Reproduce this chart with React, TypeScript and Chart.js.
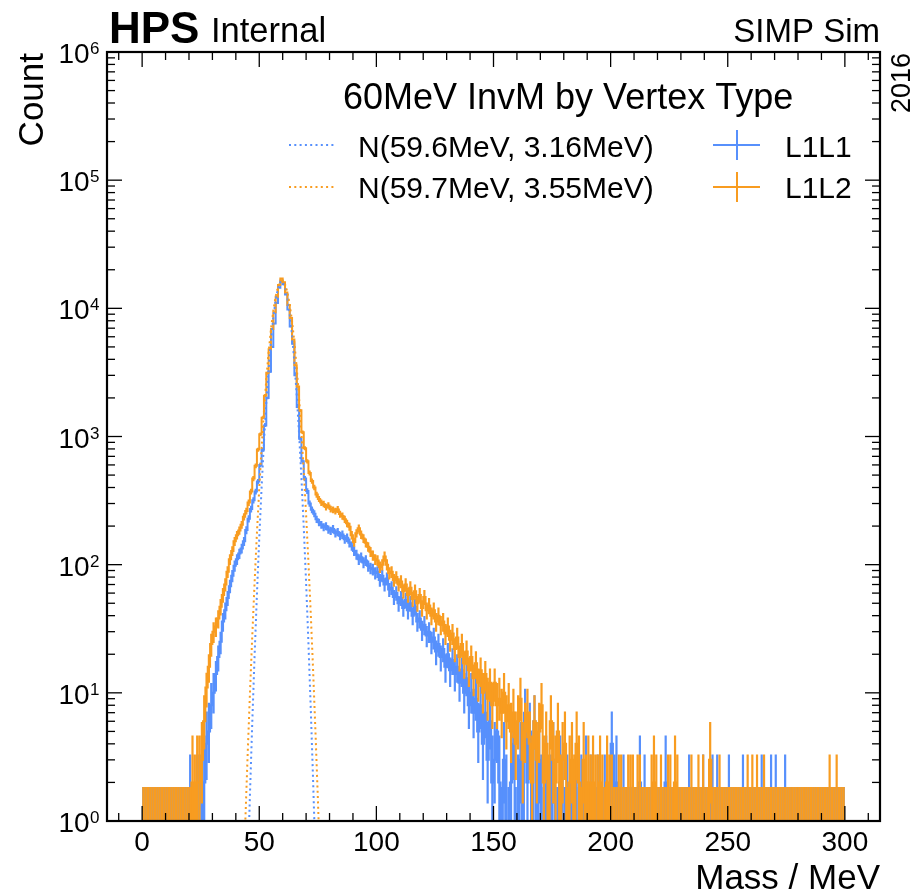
import React, { useEffect, useRef } from "react";
import { Chart, registerables } from "chart.js";

Chart.register(...registerables);

// ---------------- data ----------------
const BIN_LOW = 0; // MeV, first bin edge
const BIN_WIDTH = 1; // MeV

// L1L1 counts per 1 MeV bin, 0..300 MeV
const L1L1_COUNTS = [
  0, 0, 0, 0, 0, 0, 0, 0, 0, 0,
  0, 0, 0, 0, 0, 0, 0, 0, 0, 0,
  1, 0, 0, 1, 1, 1, 2, 4, 5, 8,
  10, 14, 19, 25, 36, 44, 55, 68, 82, 98,
  110, 122, 134, 152, 186, 228, 272, 318, 372, 445,
  600, 790, 1220, 2000, 3200, 5000, 7600, 11000, 14500, 16500,
  15400, 12800, 9800, 7200, 5300, 3000, 1700, 960, 640, 470,
  375, 300, 268, 250, 226, 214, 205, 196, 200, 188,
  184, 190, 176, 180, 168, 172, 158, 162, 148, 140,
  128, 120, 110, 114, 104, 108, 98, 94, 92, 86,
  88, 76, 82, 70, 78, 64, 66, 56, 60, 50,
  55, 46, 53, 44, 50, 40, 47, 36, 38, 31,
  34, 28, 30, 25, 27, 21, 24, 19, 22, 16,
  20, 15, 18, 14, 16, 12, 15, 10, 13, 8,
  10, 7, 9, 5, 8, 4, 7, 3, 6, 2,
  3, 5, 2, 0, 3, 1, 0, 2, 4, 0,
  1, 3, 0, 7, 2, 5, 1, 6, 0, 3,
  1, 0, 2, 0, 1, 3, 0, 0, 2, 1,
  0, 1, 0, 2, 0, 1, 0, 1, 0, 2,
  0, 1, 0, 0, 1, 0, 0, 1, 0, 0,
  4, 1, 2, 0, 0, 1, 0, 0, 0, 0,
  0, 0, 2, 0, 1, 0, 0, 0, 0, 0,
  0, 0, 0, 2, 0, 0, 0, 0, 0, 0,
  0, 0, 0, 1, 0, 0, 0, 0, 0, 1,
  0, 0, 0, 1, 0, 1, 0, 0, 0, 0,
  1, 0, 0, 0, 0, 0, 1, 0, 0, 0,
  0, 0, 0, 0, 1, 0, 0, 0, 1, 0,
  1, 0, 0, 0, 1, 0, 0, 0, 0, 0,
  0, 0, 0, 0, 0, 0, 0, 0, 0, 0,
  0, 0, 0, 0, 0, 0, 0, 0, 0, 0,
];

// L1L2 counts per 1 MeV bin, 0..300 MeV
const L1L2_COUNTS = [
  0, 0, 0, 0, 0, 0, 0, 0, 0, 0,
  0, 0, 0, 0, 0, 0, 0, 0, 0, 0,
  0, 2, 1, 2, 2, 3, 6, 11, 16, 24,
  30, 33, 38, 47, 58, 70, 88, 110, 128, 152,
  170, 185, 205, 236, 262, 305, 372, 470, 590, 790,
  1040, 1400, 2080, 3150, 4800, 6900, 9300, 12300, 15200, 17100,
  16000, 13300, 10600, 8400, 5700, 3600, 2450, 1600, 1080, 810,
  640, 520, 450, 400, 352, 326, 305, 298, 282, 290,
  272, 268, 262, 270, 248, 240, 226, 210, 198, 170,
  150, 176, 192, 172, 160, 148, 138, 126, 118, 110,
  108, 96, 100, 116, 100, 86, 88, 76, 80, 70,
  74, 62, 70, 58, 66, 54, 62, 50, 58, 46,
  56, 44, 48, 40, 44, 36, 40, 34, 36, 29,
  33, 26, 29, 22, 27, 19, 24, 17, 21, 15,
  19, 13, 17, 12, 15, 10, 14, 9, 12, 8,
  12, 8, 9, 7, 10, 6, 8, 5, 7, 4,
  6, 9, 3, 5, 7, 4, 2, 6, 3, 5,
  8, 2, 4, 1, 6, 3, 2, 5, 1, 3,
  4, 0, 2, 3, 1, 4, 2, 0, 3, 1,
  2, 1, 2, 1, 1, 2, 1, 0, 2, 1,
  1, 0, 0, 1, 1, 0, 0, 1, 1, 1,
  0, 1, 1, 0, 0, 0, 0, 1, 2, 1,
  0, 1, 0, 0, 1, 1, 0, 2, 1, 0,
  0, 0, 0, 0, 1, 0, 0, 1, 0, 1,
  0, 0, 3, 0, 0, 0, 1, 0, 0, 0,
  0, 0, 0, 0, 0, 0, 0, 0, 1, 0,
  1, 0, 1, 0, 0, 1, 0, 0, 0, 0,
  0, 0, 0, 0, 0, 0, 0, 0, 0, 0,
  0, 0, 0, 0, 0, 0, 0, 0, 0, 0,
  0, 0, 0, 1, 0, 0, 1, 0, 0, 0,
];

// Gaussian fit curves, sampled values (MeV, counts)
const FIT_L1L1_X = [45, 46, 47, 48, 49, 50, 51, 52, 53, 54, 55, 56, 57, 58, 59, 60, 61, 62, 63, 64, 65, 66, 67, 68, 69, 70, 71, 72, 73, 74];
const FIT_L1L1_Y = [0.377, 1.55, 5.74, 19.3, 58.6, 161, 401, 903, 1840, 3390, 5650, 8510, 11600, 14300, 16000, 16170, 14800, 12200, 9130, 6180, 3780, 2090, 1050, 475, 195, 72.4, 24.3, 7.38, 2.03, 0.504];
const FIT_L1L2_X = [44, 45, 46, 47, 48, 49, 50, 51, 52, 53, 54, 55, 56, 57, 58, 59, 60, 61, 62, 63, 64, 65, 66, 67, 68, 69, 70, 71, 72, 73, 74, 75, 76];
const FIT_L1L2_Y = [0.933, 3.12, 9.62, 27.4, 72.2, 176, 395, 819, 1570, 2780, 4550, 6870, 9590, 12360, 14720, 16180, 16440, 15430, 13380, 10710, 7920, 5410, 3420, 1990, 1070, 534, 245, 104, 40.8, 14.8, 4.94, 1.53, 0.436];

// Poisson (Garwood 68%) interval bounds for small counts 0..10
const POISSON_LO = [0, 0.173, 0.708, 1.367, 2.086, 2.84, 3.62, 4.419, 5.232, 6.057, 6.891];
const POISSON_HI = [1.841, 3.3, 4.638, 5.918, 7.163, 8.382, 9.584, 10.77, 11.95, 13.11, 14.27];

const X_TICKS = [0, 50, 100, 150, 200, 250, 300];
const Y_TICK_EXPONENTS = [0, 1, 2, 3, 4, 5, 6];

const SERIES_LABELS = ["L1L1", "L1L2"];
const FIT_LABELS = ["N(59.6MeV, 3.16MeV)", "N(59.7MeV, 3.55MeV)"];
const LEGEND_TITLE = "60MeV InvM by Vertex Type";

// ---------------- style ----------------
const W = 914;
const H = 893;
const FONT = '"Liberation Sans", Arial, Helvetica, sans-serif';
const BLUE = "#5790fc";
const ORANGE = "#f89c20";
// log axis cannot show 0: zero is drawn at a tiny value far below the axis (clipped)
const LOG_FLOOR = 1e-3;

const floor0 = (v: number) => (v <= 0 ? LOG_FLOOR : v);

function stepPoints(counts: number[]) {
  const pts = counts.map((v, i) => ({ x: BIN_LOW + i * BIN_WIDTH, y: floor0(v) }));
  pts.push({ x: BIN_LOW + counts.length * BIN_WIDTH, y: floor0(counts[counts.length - 1]) });
  return pts;
}

function errPoints(counts: number[]) {
  const pts: { x: number; y: number | null }[] = [];
  counts.forEach((n, i) => {
    const c = BIN_LOW + (i + 0.5) * BIN_WIDTH;
    let lo: number, hi: number;
    if (n < POISSON_LO.length) {
      lo = POISSON_LO[n];
      hi = POISSON_HI[n];
    } else {
      const s = Math.sqrt(n);
      lo = n - s;
      hi = n + s;
    }
    pts.push({ x: c, y: floor0(lo) }, { x: c, y: hi }, { x: c, y: null });
  });
  return pts;
}

function fitPoints(xs: number[], ys: number[]) {
  return xs.map((x, i) => ({ x, y: ys[i] }));
}

const decorPlugin = {
  id: "decor",
  afterDatasetsDraw(chart: any) {
    const { ctx, chartArea: a, scales } = chart;
    const xs = scales.x;
    const ys = scales.y;
    ctx.save();
    ctx.strokeStyle = "#000";
    ctx.lineCap = "butt";
    ctx.lineWidth = 1.3;
    const seg = (x1: number, y1: number, x2: number, y2: number) => {
      ctx.beginPath();
      ctx.moveTo(x1, y1);
      ctx.lineTo(x2, y2);
      ctx.stroke();
    };
    // x ticks
    for (let v = -10; v <= 310; v += 10) {
      const px = xs.getPixelForValue(v);
      const major = X_TICKS.includes(v);
      const len = major ? 15 : 8;
      seg(px, a.bottom, px, a.bottom - len);
      seg(px, a.top, px, a.top + len);
    }
    // y ticks
    for (let e = 0; e < 6; e++) {
      for (let k = 1; k <= 9; k++) {
        const val = k * Math.pow(10, e);
        const py = ys.getPixelForValue(val);
        const len = k === 1 ? 15 : 8;
        seg(a.left, py, a.left + len, py);
        seg(a.right, py, a.right - len, py);
      }
    }
    // frame
    ctx.lineWidth = 2.2;
    ctx.strokeRect(a.left, a.top, a.right - a.left, a.bottom - a.top);

    ctx.fillStyle = "#000";
    // y tick labels
    Y_TICK_EXPONENTS.forEach((e) => {
      const py = ys.getPixelForValue(Math.pow(10, e));
      ctx.font = `17px ${FONT}`;
      ctx.textAlign = "right";
      ctx.textBaseline = "alphabetic";
      const ew = ctx.measureText(String(e)).width;
      ctx.fillText(String(e), 99.5, py + 2);
      ctx.font = `28px ${FONT}`;
      ctx.fillText("10", 99.5 - ew - 0.5, py + 11);
    });
    // x tick labels
    ctx.font = `28px ${FONT}`;
    ctx.textAlign = "center";
    X_TICKS.forEach((v) => {
      ctx.fillText(String(v), xs.getPixelForValue(v), 851);
    });
    // axis titles
    ctx.font = `35px ${FONT}`;
    ctx.textAlign = "right";
    ctx.fillText("Mass / MeV", a.right, 889);
    ctx.save();
    ctx.translate(43, a.top + 1);
    ctx.rotate(-Math.PI / 2);
    ctx.textAlign = "right";
    ctx.fillText("Count", 0, 0);
    ctx.restore();

    // experiment labels
    ctx.textAlign = "left";
    ctx.font = `bold 44px ${FONT}`;
    ctx.fillText("HPS", 109, 43);
    ctx.font = `34.5px ${FONT}`;
    ctx.fillText("Internal", 211, 42);
    ctx.textAlign = "right";
    ctx.font = `33px ${FONT}`;
    ctx.fillText("SIMP Sim", a.right, 42);
    ctx.save();
    ctx.translate(910, a.top + 1);
    ctx.rotate(-Math.PI / 2);
    ctx.font = `27px ${FONT}`;
    ctx.textAlign = "right";
    ctx.fillText("2016", 0, 0);
    ctx.restore();

    // legend
    ctx.textAlign = "left";
    ctx.font = `36px ${FONT}`;
    ctx.fillText(LEGEND_TITLE, 343, 109);
    const rows = [
      { y: 145, base: 157, color: BLUE },
      { y: 187, base: 198, color: ORANGE },
    ];
    rows.forEach((r, i) => {
      ctx.strokeStyle = r.color;
      ctx.lineWidth = 2;
      ctx.setLineDash([2, 3.3]);
      seg(289, r.y, 335, r.y);
      ctx.setLineDash([]);
      ctx.font = `30px ${FONT}`;
      ctx.fillStyle = "#000";
      ctx.fillText(FIT_LABELS[i], 358, r.base);
      ctx.strokeStyle = r.color;
      ctx.lineWidth = 2;
      seg(713, r.y, 760, r.y);
      seg(737, r.y - 15, 737, r.y + 15);
      ctx.fillText(SERIES_LABELS[i], 785, r.base);
    });
    ctx.restore();
  },
};

export default function App() {
  const ref = useRef<HTMLCanvasElement>(null);
  useEffect(() => {
    const canvas = ref.current!;
    const histStyle = (color: string, order: number) => ({
      borderColor: color,
      backgroundColor: color,
      borderWidth: 2,
      pointRadius: 0,
      fill: false,
      order,
      clip: 0,
    });
    const chart = new Chart(canvas, {
      type: "line",
      data: {
        datasets: [
          { label: "L1L1", data: stepPoints(L1L1_COUNTS), stepped: "before", ...histStyle(BLUE, 6) } as any,
          { label: "L1L1 err", data: errPoints(L1L1_COUNTS), spanGaps: false, ...histStyle(BLUE, 5), borderWidth: 2.2 } as any,
          { label: "L1L2", data: stepPoints(L1L2_COUNTS), stepped: "before", ...histStyle(ORANGE, 4) } as any,
          { label: "L1L2 err", data: errPoints(L1L2_COUNTS), spanGaps: false, ...histStyle(ORANGE, 3), borderWidth: 2.2 } as any,
          { label: FIT_LABELS[0], data: fitPoints(FIT_L1L1_X, FIT_L1L1_Y), borderDash: [2, 3.3], ...histStyle(BLUE, 2) } as any,
          { label: FIT_LABELS[1], data: fitPoints(FIT_L1L2_X, FIT_L1L2_Y), borderDash: [2, 3.3], ...histStyle(ORANGE, 1) } as any,
        ],
      },
      options: {
        responsive: false,
        animation: false,
        devicePixelRatio: 1,
        layout: { padding: { left: 107, right: W - 880, top: 52, bottom: H - 821 } },
        plugins: { legend: { display: false }, tooltip: { enabled: false } },
        events: [],
        scales: {
          x: { type: "linear", min: -15, max: 315, display: false },
          y: { type: "logarithmic", min: 1, max: 1e6, display: false },
        },
      },
      plugins: [decorPlugin],
    });
    return () => chart.destroy();
  }, []);
  return (
    <div style={{ position: "absolute", left: 0, top: 0, width: W, height: H, background: "#fff" }}>
      <canvas ref={ref} width={W} height={H} style={{ width: W, height: H, display: "block" }} />
    </div>
  );
}
